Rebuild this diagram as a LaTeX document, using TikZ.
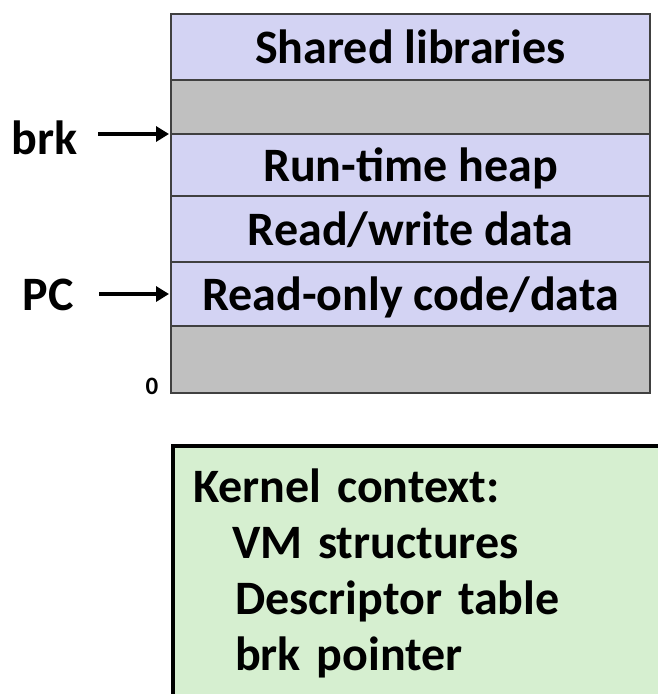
\documentclass[tikz,border=0pt]{standalone}
\usepackage{fontspec}
\setmainfont{Carlito}
\usepackage{xcolor}
\usepackage{tikz}
\usetikzlibrary{positioning, arrows.meta}
\definecolor{segblue}{RGB}{211,211,243}
\definecolor{seggray}{RGB}{192,192,192}
\definecolor{kerngreen}{RGB}{214,239,208}
\tikzstyle{segment} = [rectangle, minimum width=479pt, text centered, draw=black!75, line width=1.2pt, outer sep=0pt, inner sep=0pt, text height=32pt, text depth=0pt, font=\fontsize{48}{48}\selectfont\bfseries, fill=segblue]
\tikzstyle{gap} = [segment, fill=seggray]
\tikzstyle{pointer} = [inner sep=0pt, text height=32pt, text depth=0pt, font=\fontsize{48}{48}\selectfont\bfseries]
\tikzstyle{kernel} = [rectangle, draw=black, line width=4pt, fill=kerngreen, align=left, anchor=north west, text width=520pt, inner xsep=20pt, inner ysep=23pt, font=\fontsize{48}{56}\selectfont\bfseries]
\tikzstyle{arrow} = [line width=4.5pt, -{Triangle[length=13pt,width=15pt]}]

\begin{document}
\begin{tikzpicture}[x=1pt, y=1pt]
\useasboundingbox (0,0) rectangle (658,-694);

% Nodes
\node (shlib) [segment, minimum height=66pt, anchor=north west] at (171,-14) {Shared libraries};
\node (gaptop) [gap, minimum height=54pt, below=0pt of shlib] {};
\node (heap) [segment, minimum height=62pt, below=0pt of gaptop] {Run-time heap};
\node (rwdata) [segment, minimum height=66pt, below=0pt of heap] {Read/write data};
\node (rocode) [segment, minimum height=64pt, below=0pt of rwdata] {Read-only code/data};
\node (gapbot) [gap, minimum height=67pt, below=0pt of rocode] {};
\node (brk) [pointer, left=93pt of heap.north west, yshift=-4pt] {brk};
\node (pc) [pointer, left=97pt of rocode.west] {PC};
\node (zero) [inner sep=0pt, font=\fontsize{25}{25}\selectfont\bfseries] at (152,-386) {0};
\node (kctx) [kernel] at (171,-444) {Kernel context:\\
  \hspace*{39pt}VM structures\\
  \hspace*{42pt}Descriptor table\\
  \hspace*{42pt}brk pointer};

% Arrows
\draw [arrow] ([xshift=20pt]brk.east |- heap.north west) -- ([xshift=-2pt]heap.north west);
\draw [arrow] ([xshift=25pt]pc.east) -- ([xshift=-2pt]rocode.west);

\end{tikzpicture}
\end{document}
